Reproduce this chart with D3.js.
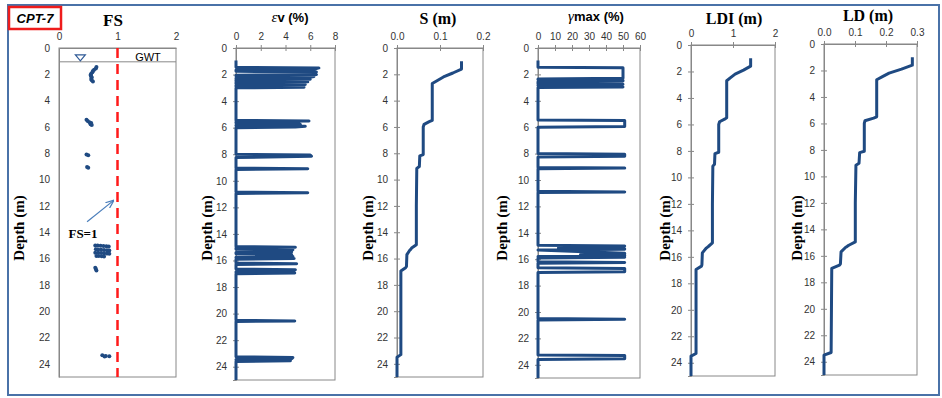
<!DOCTYPE html>
<html>
<head>
<meta charset="utf-8">
<script src="https://cdn.jsdelivr.net/npm/d3@7"></script>
<style>
  body { margin: 0; background: #fff; }
  svg { display: block; }
  .tick text { font-family: "Liberation Sans", Arial, sans-serif; font-size: 10px; fill: #333; }
  .title { font-family: "Liberation Serif", "Times New Roman", serif; font-weight: bold; font-size: 16px; }
  .depth { font-family: "Liberation Serif", "Times New Roman", serif; font-weight: bold; font-size: 15px; }
</style>
</head>
<body>
<div id="chart"></div>
<script>
const depthTicks = [0, 2, 4, 6, 8, 10, 12, 14, 16, 18, 20, 22, 24];
const gwtDepth = 1.05;
const fsLimit = 1;

// FS points
const fsDepth = [1.45, 1.55, 1.65, 1.75, 1.85, 1.95, 2.05, 2.15, 2.25, 2.35, 2.45, 2.55,
  5.45, 5.55, 5.65, 5.7, 5.8, 5.85, 8.1, 8.15, 9.05, 9.1,
  15.0, 15.01, 15.03, 15.05, 15.07, 15.08, 15.3, 15.31, 15.33, 15.35, 15.37, 15.38,
  15.55, 15.56, 15.58, 15.6, 15.62, 15.63, 15.8, 15.81, 15.83, 15.85,
  16.7, 16.8, 16.9, 23.35, 23.4, 23.42, 23.45];
const fsValue = [0.64, 0.63, 0.6, 0.58, 0.57, 0.55, 0.54, 0.55, 0.56, 0.55, 0.56, 0.58,
  0.47, 0.49, 0.52, 0.55, 0.54, 0.56, 0.47, 0.5, 0.48, 0.5,
  0.62, 0.66, 0.71, 0.76, 0.81, 0.85, 0.63, 0.67, 0.72, 0.77, 0.82, 0.86,
  0.62, 0.67, 0.72, 0.77, 0.82, 0.86, 0.64, 0.68, 0.73, 0.77,
  0.62, 0.63, 0.64, 0.74, 0.8, 0.86, 0.78];

// volumetric strain (%)
const evDepth = [0.95, 1.45, 1.5, 1.6, 1.65, 1.75, 1.8, 1.9, 2.0, 2.05, 2.1, 2.15, 2.2, 2.25, 2.3, 2.35, 2.4, 2.5, 2.55, 2.6, 2.7, 2.75, 2.8, 2.9, 2.95, 3.0,
  5.45, 5.5, 5.55, 5.65, 5.7, 5.75, 5.8, 5.85, 5.9, 5.95, 6.0,
  8.0, 8.05, 8.15, 8.25, 9.05, 9.1, 9.15, 10.85, 10.9, 10.95,
  14.95, 15.0, 15.05, 15.15, 15.2, 15.25, 15.35, 15.4, 15.5, 15.55, 15.6, 15.7, 15.75, 15.8, 15.85, 15.9,
  16.2, 16.25, 16.3, 16.65, 16.7, 16.8, 16.85, 16.9, 16.95, 17.0,
  20.5, 20.55, 20.6, 23.25, 23.3, 23.4, 23.45, 23.5, 23.55, 23.6, 25];
const evValue = [0, 0, 6.7, 6.3, 0, 0, 6.5, 6.2, 6.5, 0, 0, 6.3, 6.0, 0, 0, 6.0, 0, 0, 5.8, 0, 0, 5.6, 0, 0, 5.5, 0,
  0, 5.9, 0, 0, 5.0, 5.2, 0, 0, 5.6, 4.8, 0,
  0, 6.0, 6.1, 0, 0, 5.8, 0, 0, 5.8, 0,
  0, 4.8, 0, 0, 4.6, 3.5, 4.5, 0, 0, 4.5, 3.6, 4.6, 0, 0, 4.7, 0,
  0, 4.9, 0, 0, 4.8, 4.6, 0, 0, 4.75, 0,
  0, 4.75, 0, 0, 4.6, 4.5, 0, 0, 4.4, 0, 0];

// maximum shear strain (%)
const gmDepth = [0.95, 1.45, 1.5, 2.3, 2.35, 2.4, 2.45, 2.5, 2.55, 2.7, 2.75, 2.8, 2.85, 2.95, 3.0,
  5.45, 5.5, 5.95, 6.0, 8.0, 8.05, 8.2, 8.25, 9.05, 9.1, 9.15, 10.85, 10.9, 10.95,
  14.95, 15.0, 15.15, 15.2, 15.25, 15.3, 15.55, 15.6, 15.65, 15.7, 15.75, 15.8, 15.85, 15.9,
  16.2, 16.25, 16.3, 16.65, 16.7, 16.95, 17.0,
  20.5, 20.55, 20.6, 23.25, 23.3, 23.55, 23.6, 25];
const gmValue = [0, 0, 50, 50, 0, 0, 50, 50, 0, 0, 50, 0, 0, 50, 0,
  0, 51, 51, 0, 0, 51, 51, 0, 0, 51, 0, 0, 51, 0,
  0, 51, 12, 51, 51, 0, 51, 51, 25, 51, 51, 0, 51, 0,
  0, 51, 0, 0, 51, 51, 0,
  0, 51, 0, 0, 51, 51, 0, 0];

// settlement (m)
const sDepth = [1.0, 1.6, 1.9, 2.2, 2.45, 2.7, 5.5, 5.6, 5.8, 6.0, 8.1, 8.2, 9.0, 9.15, 12, 14.95, 15.2, 15.3, 15.35, 15.7, 16.6, 16.7, 16.95, 23.3, 23.5, 25];
const sValue = [0.15, 0.15, 0.13, 0.108, 0.095, 0.082, 0.082, 0.075, 0.063, 0.061, 0.061, 0.053, 0.052, 0.046, 0.045, 0.045, 0.034, 0.032, 0.03, 0.023, 0.022, 0.02, 0.009, 0.009, 0, 0];

// lateral displacement index (m)
const ldiDepth = [1.0, 1.6, 1.9, 2.2, 2.45, 2.7, 5.5, 5.6, 5.8, 6.0, 8.1, 8.2, 9.0, 9.15, 12, 14.95, 15.2, 15.3, 15.35, 15.7, 16.6, 16.7, 16.95, 23.3, 23.5, 25];
const ldiValue = [1.42, 1.42, 1.25, 1.05, 0.95, 0.85, 0.85, 0.8, 0.68, 0.66, 0.66, 0.57, 0.56, 0.52, 0.51, 0.51, 0.42, 0.38, 0.36, 0.27, 0.26, 0.25, 0.12, 0.12, 0, 0];

// lateral displacement (m)
const ldDepth = [1.0, 1.6, 1.9, 2.2, 2.45, 2.7, 5.5, 5.6, 5.8, 6.0, 8.1, 8.2, 9.0, 9.15, 12, 14.95, 15.2, 15.3, 15.35, 15.7, 16.6, 16.7, 16.95, 23.3, 23.5, 25];
const ldValue = [0.285, 0.285, 0.25, 0.21, 0.19, 0.17, 0.17, 0.16, 0.132, 0.13, 0.13, 0.115, 0.113, 0.103, 0.101, 0.101, 0.08, 0.074, 0.07, 0.055, 0.053, 0.05, 0.025, 0.023, 0, 0];

const blue = "#1f4a82";

const svg = d3.select("#chart").append("svg").attr("width", 942).attr("height", 398);

svg.append("rect").attr("x", 8).attr("y", 5).attr("width", 931).attr("height", 390)
  .attr("fill", "none").attr("stroke", "#4a72a8").attr("stroke-width", 2);

svg.append("rect").attr("x", 9).attr("y", 7).attr("width", 52).attr("height", 22)
  .attr("fill", "none").attr("stroke", "#ee1c1c").attr("stroke-width", 2.5);
svg.append("text").attr("x", 35).attr("y", 23).attr("text-anchor", "middle")
  .style("font-family", "Liberation Sans, Arial, sans-serif").style("font-weight", "bold")
  .style("font-style", "italic").style("font-size", "13px").text("CPT-7");

function panel(p) {
  const x = d3.scaleLinear().domain(p.xdom).range([p.x0, p.x1]);
  const y = d3.scaleLinear().domain([0, 25]).range([p.y0, p.y1]);
  const g = svg.append("g");

  g.append("rect").attr("x", p.x0).attr("y", p.y0).attr("width", p.x1 - p.x0).attr("height", p.y1 - p.y0)
    .attr("fill", "none").attr("stroke", "#888").attr("stroke-width", 1);

  const ts = p.ticks ? 3 : 0;
  const fmt = p.fmt ? d3.format(p.fmt) : d3.format("d");
  const top = g.append("g").attr("transform", `translate(0,${p.y0})`)
    .call(d3.axisTop(x).tickValues(p.xticks).tickSize(ts).tickPadding(p.ticks ? 5 : 8).tickFormat(fmt));
  top.select(".domain").attr("stroke", "#888");
  const left = g.append("g").attr("transform", `translate(${p.x0},0)`)
    .call(d3.axisLeft(y).tickValues(depthTicks).tickSize(ts).tickPadding(p.ticks ? 6 : 9).tickFormat(d3.format("d")));
  left.select(".domain").attr("stroke", "#888");
  if (p.ticks) {
    g.append("g").attr("transform", `translate(0,${p.y0})`)
      .call(d3.axisBottom(x).tickValues(p.xticks).tickSize(3).tickFormat(""))
      .select(".domain").remove();
    g.append("g").attr("transform", `translate(${p.x0},0)`)
      .call(d3.axisRight(y).tickValues(depthTicks).tickSize(3).tickFormat(""))
      .select(".domain").remove();
  }
  g.selectAll(".tick line").attr("stroke", "#888");

  g.append("text").attr("class", "depth")
    .attr("transform", `translate(${p.dx},228) rotate(-90)`)
    .attr("text-anchor", "middle").attr("dominant-baseline", "middle").text("Depth (m)");

  if (p.depth) {
    const pts = p.depth.map((d, i) => [p.value[i], d]);
    g.append("path").datum(pts)
      .attr("fill", "none").attr("stroke", blue).attr("stroke-width", 3)
      .attr("stroke-linejoin", "round")
      .attr("d", d3.line().x((d) => x(d[0])).y((d) => y(d[1])));
  }
  return { g, x, y };
}

// FS panel
const fs = panel({ x0: 59, x1: 176, y0: 48, y1: 377, xdom: [0, 2], xticks: [0, 1, 2], ticks: false, dx: 21 });
fs.g.append("text").attr("class", "title").attr("x", 113).attr("y", 26).attr("text-anchor", "middle").style("font-size", "17px").text("FS");
fs.g.append("line").attr("x1", 59).attr("x2", 176).attr("y1", fs.y(gwtDepth)).attr("y2", fs.y(gwtDepth))
  .attr("stroke", "#888");
const gy = fs.y(gwtDepth);
fs.g.append("path")
  .attr("d", `M${fs.x(0.28)},${gy - 7} L${fs.x(0.45)},${gy - 7} L${fs.x(0.365)},${gy - 1} Z`)
  .attr("fill", "none").attr("stroke", "#2f5a96").attr("stroke-width", 1.2);
fs.g.append("text").attr("x", 148).attr("y", 61).attr("text-anchor", "middle")
  .style("font-family", "Liberation Sans, Arial, sans-serif").style("font-size", "11px").text("GWT");
fs.g.append("line").attr("x1", fs.x(fsLimit)).attr("x2", fs.x(fsLimit)).attr("y1", 48).attr("y2", 377)
  .attr("stroke", "#ff1a1a").attr("stroke-width", 2.5).attr("stroke-dasharray", "10,6");
fs.g.selectAll("circle.fs").data(fsDepth).join("circle").attr("class", "fs")
  .attr("cx", (d, i) => fs.x(fsValue[i])).attr("cy", (d) => fs.y(d)).attr("r", 2).attr("fill", blue);

svg.append("defs").append("marker").attr("id", "arr").attr("viewBox", "0 0 10 10")
  .attr("refX", 9).attr("refY", 5).attr("markerWidth", 7).attr("markerHeight", 7).attr("orient", "auto")
  .append("path").attr("d", "M0,1 L10,5 L0,9").attr("fill", "none").attr("stroke", "#4a7ebb").attr("stroke-width", 1.5);
fs.g.append("line").attr("x1", fs.x(0.48)).attr("y1", fs.y(13.2)).attr("x2", fs.x(0.93)).attr("y2", fs.y(11.6))
  .attr("stroke", "#4a7ebb").attr("stroke-width", 1.2).attr("marker-end", "url(#arr)");
fs.g.append("text").attr("x", 83).attr("y", 238).attr("text-anchor", "middle")
  .style("font-family", "Liberation Serif, serif").style("font-weight", "bold").style("font-size", "13px").text("FS=1");

// εv panel
const ev = panel({ x0: 236, x1: 335, y0: 48, y1: 380, xdom: [0, 8], xticks: [0, 2, 4, 6, 8], ticks: true, dx: 209, depth: evDepth, value: evValue });
const evT = ev.g.append("text").attr("x", 290).attr("y", 22).attr("text-anchor", "middle");
evT.append("tspan").style("font-family", "Liberation Serif, serif").style("font-style", "italic").style("font-size", "15px").text("ε");
evT.append("tspan").style("font-family", "Liberation Sans, Arial, sans-serif").style("font-weight", "bold").style("font-size", "13px").text("v (%)");

// S panel
const sp = panel({ x0: 397, x1: 483, y0: 48, y1: 377, xdom: [0, 0.2], xticks: [0, 0.1, 0.2], fmt: ".1f", ticks: true, dx: 370, depth: sDepth, value: sValue });
sp.g.append("text").attr("class", "title").attr("x", 438).attr("y", 24).attr("text-anchor", "middle").text("S (m)");

// γmax panel
const gm = panel({ x0: 538, x1: 640, y0: 48, y1: 378, xdom: [0, 60], xticks: [0, 10, 20, 30, 40, 50, 60], ticks: true, dx: 504, depth: gmDepth, value: gmValue });
const gmT = gm.g.append("text").attr("x", 596).attr("y", 21).attr("text-anchor", "middle");
gmT.append("tspan").style("font-family", "Liberation Serif, serif").style("font-style", "italic").style("font-size", "15px").text("γ");
gmT.append("tspan").style("font-family", "Liberation Sans, Arial, sans-serif").style("font-weight", "bold").style("font-size", "13px").text("max (%)");

// LDI panel
const ldi = panel({ x0: 691, x1: 775, y0: 45, y1: 376, xdom: [0, 2], xticks: [0, 1, 2], ticks: true, dx: 667, depth: ldiDepth, value: ldiValue });
ldi.g.append("text").attr("class", "title").attr("x", 734).attr("y", 24).attr("text-anchor", "middle").text("LDI (m)");

// LD panel
const ld = panel({ x0: 824, x1: 917, y0: 44, y1: 375, xdom: [0, 0.3], xticks: [0, 0.1, 0.2, 0.3], fmt: ".1f", ticks: true, dx: 799, depth: ldDepth, value: ldValue });
ld.g.append("text").attr("class", "title").attr("x", 868).attr("y", 21).attr("text-anchor", "middle").text("LD (m)");
</script>
</body>
</html>
